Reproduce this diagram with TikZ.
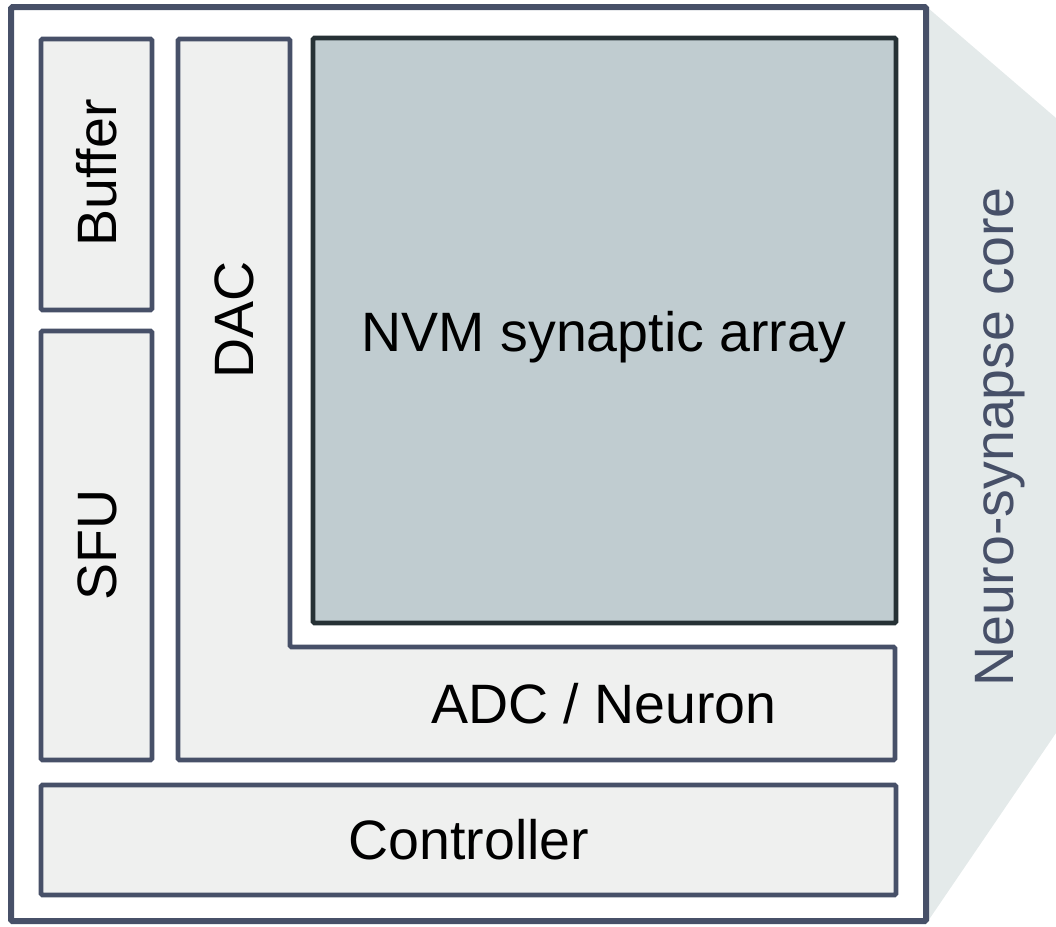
\documentclass[tikz,border=0pt]{standalone}
\usepackage{fontspec}
\setmainfont{Liberation Sans}
\begin{document}
\begin{tikzpicture}[x=1pt,y=-1pt,
  edge/.style={draw=bordc,line width=4.8pt,rounded corners=1.5pt},
  blk/.style={edge,fill=boxc},
  lbl/.style={font=\fontsize{55.5}{60}\selectfont,text=black,inner sep=0pt},
]
\definecolor{bordc}{HTML}{475068}
\definecolor{boxc}{HTML}{EFF0EF}
\definecolor{nvmc}{HTML}{C0CCD0}
\definecolor{nvmb}{HTML}{263135}
\definecolor{shadec}{HTML}{E4EAEA}
\useasboundingbox (0,0) rectangle (1056,926);
% projection shade
\fill[shadec] (928,8) -- (1056,118) -- (1056,733) -- (928,921) -- cycle;
% outer core
\draw[edge,line width=6pt,fill=white] (11,7) rectangle (926,921);
% blocks
\draw[blk] (41,39) rectangle (152,310);
\draw[blk] (41,331) rectangle (152,760);
\draw[blk] (178,39) -- (290,39) -- (290,647) -- (895,647) -- (895,760) -- (178,760) -- cycle;
\draw[edge,draw=nvmb,fill=nvmc] (313,38) rectangle (896,623);
\draw[blk] (41,785) rectangle (896,895);
% labels
\node[lbl,rotate=90] (buf) at (97,173) {Buffer};
\node[lbl,rotate=90] (sfu) at (97,545) {SFU};
\node[lbl,rotate=90] (dac) at (234,320) {DAC};
\node[lbl] (nvm) at (604,337) {NVM synaptic array};
\node[lbl] (adc) at (604,704) {ADC / Neuron};
\node[lbl] (ctl) at (469,840) {Controller};
\node[lbl,rotate=90,text=bordc] (core) at (1000,437) {Neuro-synapse core};
\end{tikzpicture}
\end{document}
